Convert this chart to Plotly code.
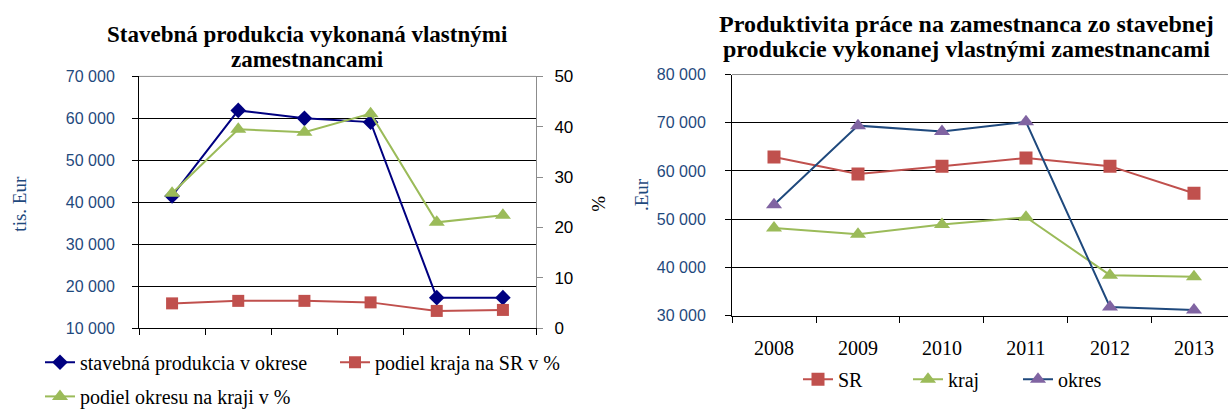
import plotly.graph_objects as go

# Categories (years) shared by both panels
years = ["2008", "2009", "2010", "2011", "2012", "2013"]

# Left panel: construction output by own employees
produkcia_okres = [41500, 61900, 60000, 59100, 17250, 17250]   # tis. Eur
podiel_kraja_sr = [4.9, 5.4, 5.4, 5.1, 3.4, 3.6]               # %
podiel_okresu_kraj = [26.8, 39.5, 38.9, 42.6, 21.0, 22.4]      # %

# Right panel: labour productivity per employee
prod_sr = [62900, 59400, 61000, 62700, 61000, 55400]
prod_kraj = [48200, 46900, 48900, 50400, 38400, 38100]
prod_okres = [53000, 69400, 68200, 70200, 31800, 31200]

left_tickvals = [10000, 20000, 30000, 40000, 50000, 60000, 70000]
left_ticktext = ["10 000", "20 000", "30 000", "40 000", "50 000", "60 000", "70 000"]
pct_tickvals = [0, 10, 20, 30, 40, 50]
right_tickvals = [30000, 40000, 50000, 60000, 70000, 80000]
right_ticktext = ["30 000", "40 000", "50 000", "60 000", "70 000", "80 000"]

W, H = 1228, 416
SERIF = "Liberation Serif"
SANS = "Liberation Sans"
NAVY_TXT = "#1F497D"
RED, GREEN, PURPLE, DARKBLUE, NAVY = "#C0504D", "#9BBB59", "#8064A2", "#1F497D", "#000080"
GRAY = "#8C8C8C"


def px_x(x):
    return x / W


def px_y(y):
    return (H - y) / H


fig = go.Figure()

# ---- left panel traces ----
fig.add_trace(go.Scatter(
    x=years, y=produkcia_okres, name="stavebná produkcia v okrese",
    mode="lines+markers", xaxis="x", yaxis="y",
    line=dict(color=NAVY, width=2),
    marker=dict(symbol="diamond", size=12, color=NAVY),
    legend="legend",
))
fig.add_trace(go.Scatter(
    x=years, y=podiel_kraja_sr, name="podiel kraja na SR v %",
    mode="lines+markers", xaxis="x", yaxis="y2",
    line=dict(color=RED, width=2),
    marker=dict(symbol="square", size=12, color=RED),
    legend="legend",
))
fig.add_trace(go.Scatter(
    x=years, y=podiel_okresu_kraj, name="podiel okresu na kraji v %",
    mode="lines+markers", xaxis="x", yaxis="y2",
    line=dict(color=GREEN, width=2),
    marker=dict(symbol="triangle-up", size=14, color=GREEN),
    legend="legend3",
))

# ---- right panel traces ----
fig.add_trace(go.Scatter(
    x=years, y=prod_sr, name="SR",
    mode="lines+markers", xaxis="x2", yaxis="y3",
    line=dict(color=RED, width=2),
    marker=dict(symbol="square", size=13, color=RED),
    legend="legend2",
))
fig.add_trace(go.Scatter(
    x=years, y=prod_kraj, name="kraj",
    mode="lines+markers", xaxis="x2", yaxis="y3",
    line=dict(color=GREEN, width=2),
    marker=dict(symbol="triangle-up", size=14, color=GREEN),
    legend="legend2",
))
fig.add_trace(go.Scatter(
    x=years, y=prod_okres, name="okres",
    mode="lines+markers", xaxis="x2", yaxis="y3",
    line=dict(color=DARKBLUE, width=2),
    marker=dict(symbol="triangle-up", size=14, color=PURPLE),
    legend="legend2",
))

L_DOM_X = [px_x(139), px_x(536)]
L_DOM_Y = [px_y(336), px_y(71)]
R_DOM_X = [px_x(732), 1.0]
R_DOM_Y = [px_y(323), px_y(69)]

legend_common = dict(
    orientation="h", bgcolor="rgba(0,0,0,0)", borderwidth=0,
    font=dict(family=SERIF, size=20, color="black"),
    xref="paper", yref="paper", yanchor="middle", xanchor="left",
    itemclick=False, itemdoubleclick=False, tracegroupgap=0,
)

fig.update_layout(
    width=W, height=H,
    margin=dict(l=0, r=0, t=0, b=0),
    paper_bgcolor="white", plot_bgcolor="white",
    font=dict(family=SERIF, color="black"),
    xaxis=dict(
        domain=L_DOM_X, type="category", range=[-0.5, 5.5],
        showticklabels=False, tickson="boundaries",
        ticks="outside", ticklen=6, tickcolor="black",
        showline=True, linecolor="black", linewidth=1,
        showgrid=False, zeroline=False, anchor="y", fixedrange=True,
    ),
    yaxis=dict(
        domain=L_DOM_Y, range=[10000, 70000],
        tickvals=left_tickvals, ticktext=left_ticktext,
        tickfont=dict(family=SANS, size=16, color=NAVY_TXT),
        ticks="outside", ticklen=6, tickcolor="black", ticklabelstandoff=14,
        showline=True, linecolor="black", linewidth=1,
        showgrid=True, gridcolor="black", gridwidth=1,
        zeroline=False, anchor="x", fixedrange=True,
    ),
    yaxis2=dict(
        overlaying="y", side="right", anchor="x", range=[0, 50],
        tickvals=pct_tickvals,
        tickfont=dict(family=SANS, size=17, color="black"),
        ticks="outside", ticklen=6, tickcolor=GRAY, ticklabelstandoff=8,
        showline=True, linecolor=GRAY, linewidth=1,
        showgrid=False, zeroline=False, fixedrange=True,
    ),
    xaxis2=dict(
        domain=R_DOM_X, type="category", range=[-0.5, 5.405],
        tickson="boundaries",
        tickfont=dict(family=SERIF, size=20, color="black"),
        ticks="outside", ticklen=6, tickcolor="black", ticklabelstandoff=14,
        showline=True, linecolor="black", linewidth=1,
        showgrid=False, zeroline=False, anchor="y3", fixedrange=True,
    ),
    yaxis3=dict(
        domain=R_DOM_Y, range=[30000, 80000],
        tickvals=right_tickvals, ticktext=right_ticktext,
        tickfont=dict(family=SANS, size=16, color=NAVY_TXT),
        ticks="outside", ticklen=6, tickcolor="black", ticklabelstandoff=16,
        showline=True, linecolor="black", linewidth=1,
        showgrid=True, gridcolor="black", gridwidth=1,
        zeroline=False, anchor="x2", fixedrange=True,
    ),
    legend=dict(legend_common, x=px_x(40), y=px_y(372), entrywidth=250, entrywidthmode="pixels"),
    legend3=dict(legend_common, x=px_x(40), y=px_y(408)),
    legend2=dict(legend_common, x=px_x(963), y=px_y(390), xanchor="center",
                 entrywidth=65, entrywidthmode="pixels"),
    showlegend=True,
)

# Gray frame line along the top of each plot area
for dom_x, dom_y in ((L_DOM_X, L_DOM_Y), (R_DOM_X, R_DOM_Y)):
    fig.add_shape(type="line", xref="paper", yref="paper",
                  x0=dom_x[0], x1=dom_x[1], y0=dom_y[1], y1=dom_y[1],
                  line=dict(color=GRAY, width=1))


def add_text(text, x, y, size, color="black", angle=0, bold=False):
    fig.add_annotation(
        text=f"<b>{text}</b>" if bold else text,
        x=px_x(x), y=px_y(y), xref="paper", yref="paper",
        xanchor="center", yanchor="middle", showarrow=False, textangle=angle,
        font=dict(family=SERIF, size=size, color=color),
    )


# Panel titles, one line each
add_text("Stavebná produkcia vykonaná vlastnými", 307, 27, 23, bold=True)
add_text("zamestnancami", 307, 53, 23, bold=True)
add_text("Produktivita práce na zamestnanca zo stavebnej", 966, 16, 24, bold=True)
add_text("produkcie vykonanej vlastnými zamestnancami", 966, 42, 24, bold=True)

# Axis titles
add_text("tis. Eur", 20, 205, 19, color=NAVY_TXT, angle=-90)
add_text("%", 599, 205, 19, angle=-90)
add_text(".Eur", 641, 196, 19, color=NAVY_TXT, angle=-90)

fig.write_html("out.html")
